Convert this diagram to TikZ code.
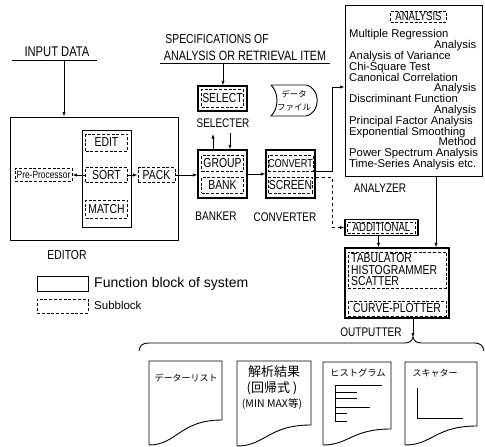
\documentclass[tikz,border=0pt]{standalone}
\usepackage{fontspec}
\setmainfont{Liberation Sans}
\newfontfamily\cf[FakeStretch=0.8]{Liberation Sans}
\newfontfamily\jp{Noto Sans CJK JP}
\usetikzlibrary{arrows.meta,calc}
\lineskiplimit=-30pt
\newcommand\docshp[5]{%
  \draw[docline] (#1,#4) -- (#1,#3) -- (#2,#3) -- (#2,#5)
    .. controls ({#1+0.42*(#2-#1)},{#5}) and ({#1+0.38*(#2-#1)},{#4}) .. (#1,#4);}
\tikzset{
  fb/.style={draw, line width=1.2pt, inner sep=0pt},
  sb/.style={draw, line width=0.8pt, dash pattern=on 3pt off 1.8pt, inner sep=0pt},
  lab/.style={font=\cf\fontsize{12.5}{13}\selectfont, inner sep=0pt},
  bt/.style={font=\cf\fontsize{13}{13}\selectfont},
  arr/.style={-{Latex[length=4.5pt,width=3.2pt]}, line width=0.7pt},
  ln/.style={line width=0.7pt},
  docline/.style={draw, line width=0.9pt},
  jtxt/.style={inner sep=0pt}
}
\begin{document}
\begin{tikzpicture}[x=1pt,y=-1pt]
\useasboundingbox (0,0) rectangle (485,447);

% INPUT DATA and EDITOR
\node[lab, font=\cf\fontsize{14}{14}\selectfont] (inp) at (57,52) {INPUT DATA};
\draw[ln] (12,60) -- (97,60);
\coordinate (inpA) at (64,61);
\node[fb, line width=0.9pt, minimum width=168pt, minimum height=123pt] (editor) at (94,178.5) {};
\draw[arr] (inpA) -- (inpA |- editor.north);
\node[fb, line width=0.8pt, minimum width=49pt, minimum height=97pt] (sortcol) at (106.5,178.5) {};
\node[sb, bt, minimum width=42pt, minimum height=17pt] (edit) at (106.5,142.5) {EDIT};
\node[sb, bt, minimum width=42pt, minimum height=15pt] (sort) at (106.5,175) {SORT};
\node[sb, bt, minimum width=42pt, minimum height=18pt] (match) at (106.5,209) {MATCH};
\node[sb, font=\cf\fontsize{10.5}{11}\selectfont, minimum width=57pt, minimum height=13pt] (pre) at (43.5,175) {Pre-Processor};
\node[sb, bt, minimum width=37pt, minimum height=15pt] (pack) at (156.5,175) {PACK};
\draw[arr] (sort.west) -- (pre.east);
\draw[arr] (sort.east) -- (pack.west);
\node[lab, font=\cf\fontsize{13}{13}\selectfont] (edlab) at (67,255) {EDITOR};

% SPECIFICATIONS and SELECTER
\node[lab, font=\cf\fontsize{13}{13}\selectfont] (spec1) at (217,39) {SPECIFICATIONS OF};
\node[lab, font=\cf\fontsize{13.5}{13}\selectfont] (spec2) at (245,56) {ANALYSIS OR RETRIEVAL ITEM};
\draw[ln] (160,63.5) -- (330,63.5);
\coordinate (specA) at (223,64);
\node[fb, minimum width=49pt, minimum height=25pt] (selectO) at (222.5,98.5) {};
\node[sb, bt, minimum width=42pt, minimum height=18pt] (select) at (selectO) {SELECT};
\draw[arr] (specA) -- (specA |- selectO.north);
\node[lab] (sellab) at (223,123) {SELECTER};

% BANKER
\node[fb, minimum width=49pt, minimum height=48pt] (banker) at (222.5,174) {};
\node[sb, bt, minimum width=42pt, minimum height=16pt] (group) at (222.5,163.5) {GROUP};
\node[sb, bt, minimum width=42pt, minimum height=16pt] (bank) at (222.5,185) {BANK};
\node[lab] (banklab) at (216,216) {BANKER};
\coordinate (su) at (213,134);
\coordinate (sd) at (230,133);
\draw[arr] (su |- banker.north) -- (su);
\draw[arr] (sd) -- (sd |- banker.north);
\draw[arr] (pack.east) -- (pack.east -| banker.west);

% CONVERTER
\node[fb, minimum width=49pt, minimum height=48pt] (conv) at (290.5,174) {};
\node[sb, font=\cf\fontsize{11.5}{12}\selectfont, minimum width=43pt, minimum height=16pt] (convert) at (290.5,163.5) {CONVERT};
\node[sb, bt, minimum width=43pt, minimum height=16pt] (screen) at (290.5,185) {SCREEN};
\node[lab] (convlab) at (285,217) {CONVERTER};
\draw[arr] (banker.east) -- (conv.west);

% data file
\draw[line width=0.9pt] (271,85) -- (306,85) .. controls (321,88) and (321,113) .. (306,116) -- (271,116) .. controls (279,108) and (279,93) .. (271,85);
\node[jtxt, font=\jp\fontsize{8.5}{13}\selectfont, align=center] (dfile) at (294,100.5) {データ\\ファイル};

% ANALYZER
\node[fb, line width=1pt, minimum width=137pt, minimum height=171pt] (anal) at (413.5,90.5) {};
\node[sb, font=\cf\fontsize{12}{12}\selectfont, minimum width=56pt, minimum height=11pt] (atitle) at (418.5,16.5) {ANALYSIS};
\node[anchor=north west, align=left, inner sep=0pt, font=\fontsize{11.3}{10.8}\selectfont] (atext) at (349,29.5) {Multiple Regression\\
\makebox[127pt][r]{Analysis}\\
Analysis of Variance\\
Chi-Square Test\\
Canonical Correlation\\
\makebox[127pt][r]{Analysis}\\
Discriminant Function\\
\makebox[127pt][r]{Analysis}\\
Principal Factor Analysis\\
Exponential Smoothing\\
\makebox[127pt][r]{Method}\\
Power Spectrum Analysis\\
Time-Series Analysis etc.};
\node[lab] (anallab) at (380,188) {ANALYZER};

% ADDITIONAL
\node[fb, minimum width=73pt, minimum height=16pt] (addO) at (381.5,227.5) {};
\node[sb, font=\cf\fontsize{12}{12}\selectfont, minimum width=68pt, minimum height=11pt] (add) at (addO) {ADDITIONAL};
\draw[arr] ([yshift=2.5pt]conv.east) -- ++(17,0) |- ([yshift=3.5pt]anal.west);
\draw[arr, dashed] ([yshift=-3.5pt]conv.east) -- ++(17,0) |- (addO.west);

% OUTPUTTER
\node[fb, minimum width=104pt, minimum height=70pt] (outO) at (397,283) {};
\node[sb, minimum width=98pt, minimum height=36pt] (out1) at (397,270) {};
\node[anchor=west, align=left, inner sep=0pt, font=\cf\fontsize{13}{11.5}\selectfont] (out1t) at (351,270) {TABULATOR\\HISTOGRAMMER\\SCATTER};
\node[sb, font=\cf\fontsize{13}{13}\selectfont, minimum width=98pt, minimum height=15pt] (out2) at (397,308.5) {CURVE-PLOTTER};
\node[lab] (outlab) at (371,332) {OUTPUTTER};
\draw[arr] ([xshift=-3pt]addO.south) -- ([xshift=-3pt]addO.south |- outO.north);
\draw[arr] ([xshift=22.5pt]anal.south) -- ([xshift=22.5pt]anal.south |- outO.north);
\coordinate (cusp) at (413,337.5);
\draw[arr] ([xshift=16pt]outO.south) -- (cusp);
\draw[line width=0.9pt] (139,351) .. controls (140,345) and (142,343) .. (150,343) -- (404,343) .. controls (410,343) and (412,341) .. (413,337) .. controls (414,341) and (416,343) .. (422,343) -- (474,343) .. controls (481,343) and (483,346) .. (484,351);

% documents
\docshp{149}{222}{361}{445}{420}
\docshp{237}{311}{361}{446}{425}
\docshp{323}{391}{362}{445}{429}
\docshp{405}{477}{362}{445}{426}
\node[jtxt, font=\jp\fontsize{9}{9}\selectfont] (d1) at (186,378) {データーリスト};
\node[jtxt, font=\jp\fontsize{13}{13}\selectfont] (d2a) at (274,372) {解析結果};
\node[jtxt, font=\jp\fontsize{13}{13}\selectfont] (d2b) at (272,388) {(回帰式 )};
\node[jtxt, font=\jp\fontsize{10.5}{11}\selectfont] (d2c) at (272,404) {(MIN MAX等)};
\node[jtxt, font=\jp\fontsize{9.3}{10}\selectfont] (d3) at (358,373) {ヒストグラム};
\node[jtxt, font=\jp\fontsize{9}{10}\selectfont] (d4) at (435,373) {スキャター};
\draw[line width=0.8pt] (335,385) -- (335,422);
\draw[line width=0.8pt] (335,385) -- (382,385) (335,392) -- (357,392) (335,398) -- (357,398) (335,407) -- (370,407) (335,413) -- (347,413) (335,421) -- (347,421);
\draw[line width=0.8pt] (417,388) -- (417,418) -- (463,418);

% legend
\node[fb, line width=0.9pt, minimum width=51pt, minimum height=15pt] (legf) at (62.5,284) {};
\node[sb, minimum width=51pt, minimum height=14pt] (legs) at (62.5,306) {};
\node[anchor=west, font=\fontsize{14}{14}\selectfont, inner sep=0pt] (legft) at (94,284) {Function block of system};
\node[anchor=west, font=\fontsize{11.5}{12}\selectfont, inner sep=0pt] (legst) at (94,305) {Subblock};
\end{tikzpicture}
\end{document}
